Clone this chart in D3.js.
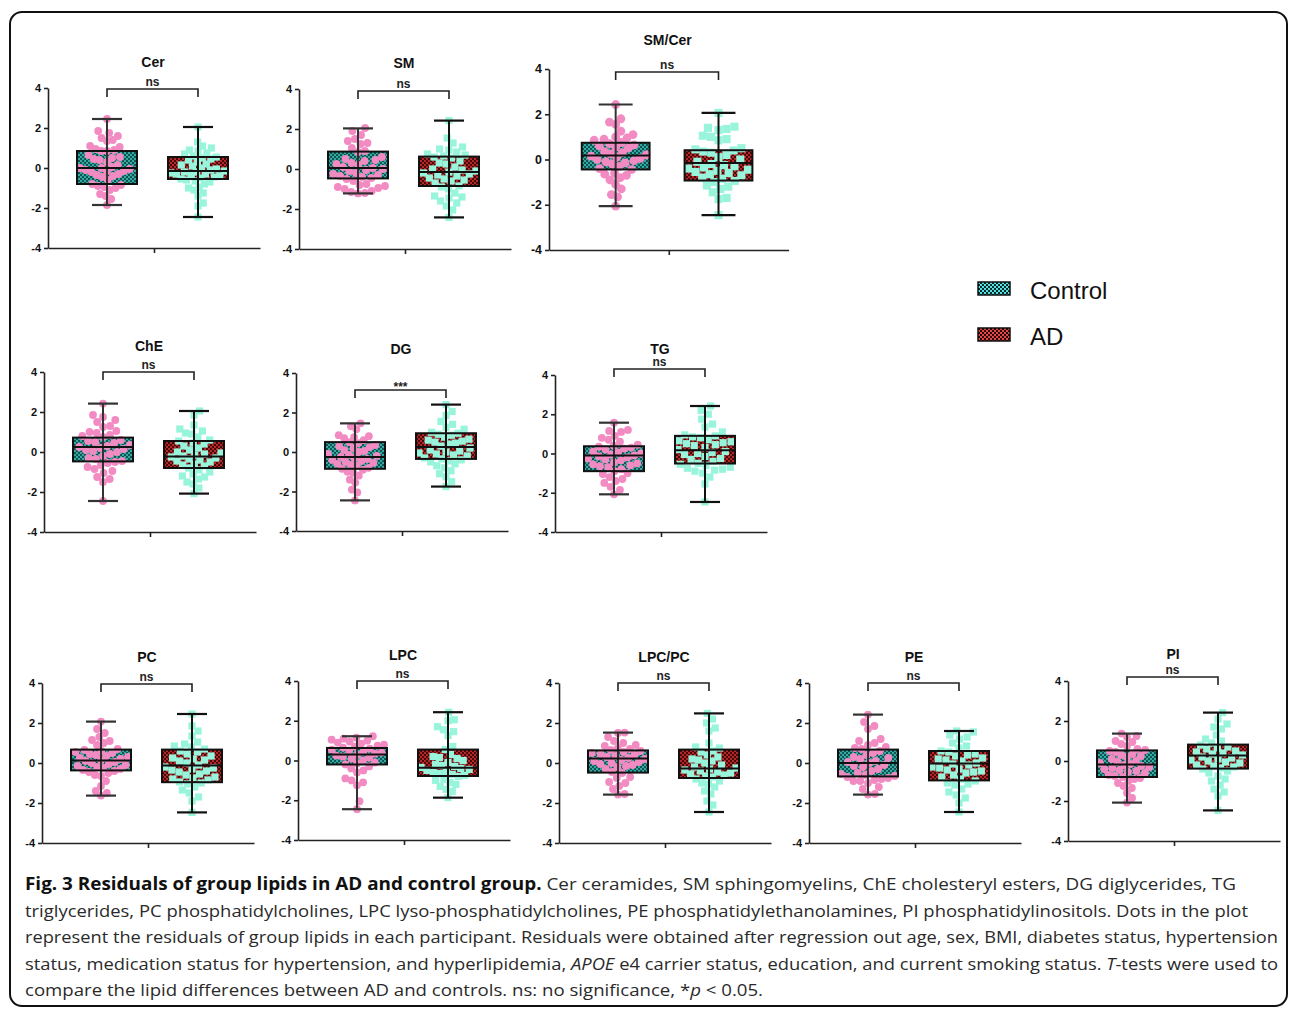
<!DOCTYPE html>
<html>
<head>
<meta charset="utf-8">
<script src="https://cdn.jsdelivr.net/npm/d3@7"></script>
<style>
body { margin: 0; background: #fff; }
</style>
</head>
<body>
<div id="vis"></div>
<script>
var groups = ["Control", "AD"];
var panelNames = ["Cer", "SM", "SM/Cer", "ChE", "DG", "TG", "PC", "LPC", "LPC/PC", "PE", "PI"];
var sigLabels = ["ns", "ns", "ns", "ns", "***", "ns", "ns", "ns", "ns", "ns", "ns"];
var yTicks = [-4, -2, 0, 2, 4];

// box stats: [min, q1, median, q3, max]
var controlBoxes = [
    [-1.85, -0.8, 0.0, 0.85, 2.45],
    [-1.22, -0.47, 0.05, 0.87, 2.03],
    [-2.06, -0.44, 0.18, 0.74, 2.43],
    [-2.45, -0.47, 0.25, 0.72, 2.42],
    [-2.45, -0.85, -0.25, 0.5, 1.45],
    [-2.08, -0.9, -0.1, 0.37, 1.57],
    [-1.63, -0.37, 0.13, 0.67, 2.07],
    [-2.45, -0.2, 0.3, 0.63, 1.22],
    [-1.58, -0.48, 0.22, 0.63, 1.52],
    [-1.58, -0.67, 0.0, 0.67, 2.42],
    [-2.08, -0.8, -0.17, 0.53, 1.37]
];
var adBoxes = [
    [-2.45, -0.55, -0.15, 0.55, 2.05],
    [-2.42, -0.85, -0.15, 0.62, 2.42],
    [-2.46, -0.93, -0.15, 0.41, 2.06],
    [-2.08, -0.8, -0.22, 0.55, 2.05],
    [-1.75, -0.35, 0.25, 0.95, 2.4],
    [-2.47, -0.51, 0.17, 0.9, 2.42],
    [-2.47, -0.96, -0.12, 0.67, 2.45],
    [-1.87, -0.78, -0.37, 0.55, 2.43],
    [-2.45, -0.75, -0.28, 0.67, 2.48],
    [-2.45, -0.87, -0.03, 0.6, 1.6],
    [-2.47, -0.38, 0.28, 0.82, 2.42]
];

// residuals per participant
var cerControl = [2.45, 1.85, 1.75, 1.6, 1.5, 1.4, 1.35, 1.1, 1.05, 0.95, 0.9, 0.85, 0.85, 0.65, 0.55, 0.5, 0.45, 0.4, 0.3, 0.15, 0.05, 0.0, 0.0, -0.05, -0.1, -0.15, -0.15, -0.2, -0.3, -0.35, -0.4, -0.45, -0.6, -0.8, -0.85, -0.9, -0.95, -1.0, -1.1, -1.3, -1.4, -1.55, -1.85];
var cerAD = [2.05, 1.3, 1.1, 1.0, 0.9, 0.85, 0.75, 0.7, 0.6, 0.55, 0.5, 0.45, 0.4, 0.3, 0.2, 0.15, 0.1, 0.0, -0.05, -0.1, -0.15, -0.2, -0.2, -0.25, -0.3, -0.3, -0.35, -0.4, -0.45, -0.5, -0.55, -0.6, -0.65, -0.7, -0.8, -0.95, -1.0, -1.1, -1.25, -1.4, -1.75, -1.9, -2.45];
var smControl = [2.05, 1.9, 1.7, 1.5, 1.4, 1.3, 1.25, 1.05, 0.9, 0.85, 0.6, 0.5, 0.45, 0.4, 0.3, 0.25, 0.2, 0.1, 0.05, 0.0, -0.05, -0.1, -0.2, -0.25, -0.3, -0.35, -0.4, -0.45, -0.5, -0.6, -0.75, -0.8, -0.85, -0.9, -0.95, -1.0, -1.1, -1.15, -1.2, -1.22];
var smAD = [2.42, 1.55, 1.3, 1.1, 1.0, 0.95, 0.85, 0.75, 0.7, 0.65, 0.6, 0.55, 0.4, 0.3, 0.25, 0.1, 0.0, -0.05, -0.1, -0.15, -0.2, -0.25, -0.3, -0.35, -0.45, -0.5, -0.55, -0.6, -0.7, -0.85, -0.9, -1.0, -1.2, -1.35, -1.4, -1.45, -1.6, -1.7, -1.85, -2.05, -2.42];
var smCerControl = [2.43, 1.8, 1.65, 1.55, 1.25, 1.1, 1.0, 0.95, 0.9, 0.85, 0.75, 0.7, 0.65, 0.6, 0.55, 0.5, 0.35, 0.3, 0.25, 0.2, 0.15, 0.1, 0.05, 0.0, -0.05, -0.1, -0.15, -0.2, -0.3, -0.4, -0.45, -0.6, -0.65, -0.7, -0.8, -0.9, -1.1, -1.3, -1.55, -1.65, -2.06];
var smCerAD = [2.06, 1.45, 1.4, 1.35, 1.3, 1.05, 1.0, 0.9, 0.85, 0.5, 0.45, 0.4, 0.35, 0.3, 0.2, 0.1, 0.0, -0.1, -0.2, -0.25, -0.3, -0.35, -0.4, -0.45, -0.5, -0.55, -0.6, -0.65, -0.7, -0.8, -0.85, -0.95, -1.0, -1.15, -1.2, -1.3, -1.45, -1.7, -1.75, -2.46];
var cheControl = [2.42, 1.85, 1.75, 1.6, 1.5, 1.3, 1.25, 1.05, 1.0, 0.95, 0.85, 0.8, 0.75, 0.6, 0.55, 0.5, 0.45, 0.35, 0.3, 0.25, 0.2, 0.15, 0.1, 0.05, 0.0, -0.1, -0.2, -0.3, -0.35, -0.45, -0.5, -0.55, -0.65, -0.75, -0.85, -0.95, -1.05, -1.25, -1.35, -1.5, -2.45];
var cheAD = [2.05, 1.85, 1.35, 1.15, 1.05, 0.95, 0.9, 0.75, 0.6, 0.55, 0.45, 0.4, 0.3, 0.2, 0.1, 0.0, -0.05, -0.1, -0.15, -0.2, -0.25, -0.3, -0.35, -0.4, -0.45, -0.5, -0.6, -0.65, -0.7, -0.8, -0.9, -1.0, -1.1, -1.2, -1.25, -1.35, -1.5, -1.6, -1.8, -2.08];
var dgControl = [1.45, 1.3, 1.15, 0.85, 0.8, 0.75, 0.7, 0.6, 0.5, 0.45, 0.35, 0.3, 0.25, 0.2, 0.1, 0.05, 0.0, -0.1, -0.15, -0.2, -0.25, -0.3, -0.35, -0.4, -0.45, -0.5, -0.55, -0.6, -0.65, -0.7, -0.8, -0.85, -0.9, -1.0, -1.05, -1.2, -1.4, -1.55, -1.9, -2.05, -2.45];
var dgAD = [2.4, 2.05, 1.85, 1.55, 1.4, 1.25, 1.15, 1.0, 0.95, 0.9, 0.85, 0.75, 0.65, 0.6, 0.55, 0.5, 0.45, 0.4, 0.3, 0.2, 0.1, 0.05, 0.0, -0.05, -0.1, -0.15, -0.2, -0.3, -0.35, -0.4, -0.45, -0.5, -0.6, -0.7, -0.8, -0.95, -1.1, -1.25, -1.5, -1.75];
var tgControl = [1.57, 1.2, 1.15, 1.1, 0.9, 0.8, 0.7, 0.6, 0.45, 0.4, 0.35, 0.3, 0.25, 0.2, 0.1, 0.05, 0.0, -0.05, -0.1, -0.15, -0.2, -0.25, -0.3, -0.35, -0.45, -0.5, -0.55, -0.6, -0.65, -0.7, -0.8, -0.9, -1.0, -1.05, -1.2, -1.3, -1.4, -1.5, -1.7, -1.85, -2.08];
var tgAD = [2.42, 2.2, 2.0, 1.75, 1.5, 1.35, 1.1, 0.95, 0.9, 0.85, 0.8, 0.7, 0.65, 0.6, 0.55, 0.5, 0.45, 0.4, 0.3, 0.2, 0.1, 0.05, 0.0, -0.05, -0.15, -0.25, -0.3, -0.4, -0.5, -0.55, -0.6, -0.7, -0.75, -0.8, -0.85, -0.9, -1.0, -1.2, -1.55, -2.47];
var pcControl = [2.07, 1.7, 1.5, 1.3, 1.15, 1.1, 1.0, 0.9, 0.7, 0.65, 0.6, 0.55, 0.5, 0.45, 0.4, 0.35, 0.3, 0.25, 0.2, 0.15, 0.1, 0.05, 0.0, -0.05, -0.1, -0.15, -0.2, -0.25, -0.3, -0.35, -0.4, -0.45, -0.5, -0.6, -0.65, -0.9, -1.15, -1.4, -1.5, -1.63];
var pcAD = [2.45, 1.85, 1.6, 1.35, 1.05, 0.95, 0.85, 0.8, 0.7, 0.6, 0.55, 0.45, 0.35, 0.25, 0.2, 0.15, 0.1, 0.0, -0.1, -0.2, -0.25, -0.3, -0.35, -0.4, -0.45, -0.55, -0.6, -0.7, -0.75, -0.8, -0.85, -0.95, -1.0, -1.05, -1.2, -1.35, -1.5, -1.7, -1.9, -2.47];
var lpcControl = [1.22, 1.15, 1.1, 1.05, 1.0, 0.95, 0.9, 0.85, 0.8, 0.75, 0.7, 0.65, 0.6, 0.55, 0.5, 0.45, 0.4, 0.35, 0.3, 0.25, 0.2, 0.15, 0.1, 0.0, -0.1, -0.15, -0.2, -0.3, -0.4, -0.5, -0.6, -0.9, -1.0, -1.1, -1.25, -2.05, -2.45];
var lpcAD = [2.43, 2.05, 2.0, 1.7, 1.55, 1.45, 1.25, 0.7, 0.55, 0.3, 0.2, 0.15, 0.1, 0.0, -0.1, -0.2, -0.25, -0.3, -0.35, -0.4, -0.45, -0.5, -0.55, -0.6, -0.65, -0.7, -0.75, -0.8, -0.95, -1.0, -1.1, -1.2, -1.3, -1.45, -1.55, -1.87];
var lpcPcControl = [1.52, 1.5, 1.3, 1.1, 1.0, 0.9, 0.85, 0.75, 0.7, 0.65, 0.6, 0.55, 0.5, 0.45, 0.4, 0.35, 0.3, 0.25, 0.2, 0.15, 0.1, 0.05, 0.0, -0.05, -0.1, -0.15, -0.2, -0.3, -0.45, -0.5, -0.7, -0.75, -0.95, -1.0, -1.15, -1.3, -1.55, -1.58];
var lpcPcAD = [2.48, 2.2, 2.0, 1.75, 1.6, 1.0, 0.8, 0.75, 0.6, 0.55, 0.4, 0.3, 0.2, 0.15, 0.1, 0.0, -0.1, -0.2, -0.25, -0.3, -0.35, -0.4, -0.45, -0.5, -0.55, -0.6, -0.65, -0.7, -0.8, -0.9, -1.0, -1.05, -1.2, -1.4, -1.55, -1.9, -2.1, -2.45];
var peControl = [2.42, 2.05, 1.85, 1.7, 1.2, 1.1, 1.0, 0.9, 0.8, 0.75, 0.7, 0.6, 0.5, 0.4, 0.3, 0.25, 0.2, 0.1, 0.05, 0.0, -0.1, -0.15, -0.2, -0.3, -0.4, -0.5, -0.55, -0.6, -0.65, -0.7, -0.75, -0.8, -0.85, -0.9, -0.9, -1.0, -1.2, -1.3, -1.55, -1.58];
var peAD = [1.6, 1.55, 1.4, 1.3, 1.2, 1.0, 0.85, 0.75, 0.6, 0.55, 0.45, 0.4, 0.35, 0.25, 0.2, 0.15, 0.1, 0.0, -0.05, -0.1, -0.2, -0.25, -0.3, -0.35, -0.4, -0.45, -0.5, -0.6, -0.7, -0.8, -0.9, -1.0, -1.05, -1.1, -1.3, -1.45, -1.6, -1.75, -2.0, -2.45];
var piControl = [1.37, 1.25, 1.2, 1.0, 0.95, 0.85, 0.75, 0.6, 0.55, 0.5, 0.45, 0.35, 0.3, 0.25, 0.2, 0.1, 0.0, -0.05, -0.1, -0.15, -0.2, -0.25, -0.3, -0.35, -0.4, -0.45, -0.5, -0.55, -0.6, -0.7, -0.75, -0.8, -0.85, -0.9, -1.0, -1.1, -1.25, -1.35, -1.6, -1.85, -2.08];
var piAD = [2.42, 2.1, 1.85, 1.7, 1.6, 1.3, 1.1, 1.0, 0.9, 0.8, 0.7, 0.65, 0.6, 0.5, 0.45, 0.4, 0.35, 0.3, 0.2, 0.15, 0.1, 0.05, 0.0, -0.05, -0.1, -0.2, -0.25, -0.3, -0.35, -0.4, -0.5, -0.6, -0.75, -0.9, -1.0, -1.2, -1.4, -1.55, -1.75, -2.47];

var controlPoints = [cerControl, smControl, smCerControl, cheControl, dgControl, tgControl, pcControl, lpcControl, lpcPcControl, peControl, piControl];
var adPoints = [cerAD, smAD, smCerAD, cheAD, dgAD, tgAD, pcAD, lpcAD, lpcPcAD, peAD, piAD];

// where each panel sits on the page (y axis x, y of +4 / -4, title and bracket y, scale factor)
var panelLayout = [
    {x: 48, top: 88, bottom: 248, titleY: 62, bracketY: 89, k: 1},
    {x: 299, top: 89, bottom: 249, titleY: 63, bracketY: 91, k: 1},
    {x: 549, top: 69, bottom: 250, titleY: 40, bracketY: 72, k: 1.13},
    {x: 44, top: 372, bottom: 532, titleY: 346, bracketY: 372, k: 1},
    {x: 296, top: 373, bottom: 531, titleY: 349, bracketY: 390, k: 1},
    {x: 555, top: 375, bottom: 532, titleY: 349, bracketY: 369, k: 1},
    {x: 42, top: 683, bottom: 843, titleY: 657, bracketY: 684, k: 1},
    {x: 298, top: 681, bottom: 840, titleY: 655, bracketY: 681, k: 1},
    {x: 559, top: 683, bottom: 843, titleY: 657, bracketY: 683, k: 1},
    {x: 809, top: 683, bottom: 843, titleY: 657, bracketY: 683, k: 1},
    {x: 1068, top: 681, bottom: 841, titleY: 654, bracketY: 677, k: 1}
];

var pageWidth = 1290;
var pageHeight = 1010;
var pink = "#f38bc3";
var aqua = "#98f5dc";

var svg = d3.select("#vis").append("svg")
    .attr("width", pageWidth)
    .attr("height", pageHeight)
    .style("font-family", "'Liberation Sans', Arial, sans-serif");

var defs = svg.append("defs");

function addChecker(id, bg, fg, size) {
    var p = defs.append("pattern")
        .attr("id", id)
        .attr("patternUnits", "userSpaceOnUse")
        .attr("width", size * 2)
        .attr("height", size * 2);
    p.append("rect").attr("width", size * 2).attr("height", size * 2).attr("fill", bg);
    p.append("rect").attr("width", size).attr("height", size).attr("fill", fg);
    p.append("rect").attr("x", size).attr("y", size).attr("width", size).attr("height", size).attr("fill", fg);
}
addChecker("ctrlFill", "#0c5553", "#35aaa3", 2);
addChecker("adFill", "#4a0707", "#b3292a", 2);
addChecker("ctrlLegend", "#0a2c2c", "#55e2e0", 2);
addChecker("adLegend", "#2c0505", "#e0484a", 2);

// outer frame
svg.append("rect")
    .attr("x", 10).attr("y", 12)
    .attr("width", 1277).attr("height", 994)
    .attr("rx", 12)
    .attr("fill", "none")
    .attr("stroke", "#111")
    .attr("stroke-width", 2);

// simple beeswarm: put each value as near the centre as it can go without overlap,
// then squeeze it so it stays inside the box width like the Prism plot does
function swarm(values, y, d, maxHalf) {
    var placed = [];
    values.slice().sort(d3.ascending).forEach(function(v) {
        var py = y(v);
        var cands = [0];
        placed.forEach(function(p) {
            var dy = Math.abs(p.y - py);
            if (dy < d) {
                var dx = Math.sqrt(d * d - dy * dy);
                cands.push(p.x + dx, p.x - dx);
            }
        });
        cands.sort(function(a, b) { return Math.abs(a) - Math.abs(b); });
        var best = cands.find(function(c) {
            return placed.every(function(p) {
                var dx = p.x - c, dy = p.y - py;
                return dx * dx + dy * dy >= d * d - 0.01;
            });
        });
        placed.push({x: best, y: py, v: v});
    });
    var widest = d3.max(placed, function(p) { return Math.abs(p.x); });
    if (widest > maxHalf) {
        placed.forEach(function(p) { p.x = p.x * maxHalf / widest; });
    }
    return placed;
}

panelNames.forEach(function(name, i) {
    var L = panelLayout[i];
    var k = L.k;
    var g = svg.append("g").attr("class", "panel");

    var y = d3.scaleLinear().domain([-4, 4]).range([L.bottom, L.top]);
    var xGroup = d3.scalePoint().domain(groups).range([L.x + 59 * k, L.x + 150 * k]);
    var xAxisScale = d3.scaleLinear().domain([0, 1]).range([L.x, L.x + 212 * k]);

    var yAxis = d3.axisLeft(y)
        .tickValues(yTicks)
        .tickFormat(function(d) { return String(d); })
        .tickSizeInner(4).tickSizeOuter(0).tickPadding(3);
    var xAxis = d3.axisBottom(xAxisScale).tickValues([0.5]).tickFormat("").tickSizeInner(5).tickSizeOuter(0);

    var ya = g.append("g")
        .attr("transform", "translate(" + L.x + ",0)")
        .call(yAxis);
    ya.selectAll("text").style("font-size", (11 * k) + "px").style("font-weight", "bold").attr("fill", "#111");

    g.append("g")
        .attr("transform", "translate(0," + L.bottom + ")")
        .call(xAxis);

    g.selectAll(".domain, .tick line").attr("stroke", "#222").attr("stroke-width", 1.6);

    // title
    g.append("text")
        .attr("x", L.x + 105 * k)
        .attr("y", L.titleY + 5)
        .attr("text-anchor", "middle")
        .style("font-size", "14px")
        .style("font-weight", "bold")
        .attr("fill", "#111")
        .text(name);

    // significance bracket
    var x1 = xGroup("Control"), x2 = xGroup("AD");
    g.append("path")
        .attr("d", "M" + x1 + "," + (L.bracketY + 8) + "V" + L.bracketY + "H" + x2 + "V" + (L.bracketY + 8))
        .attr("fill", "none")
        .attr("stroke", "#222")
        .attr("stroke-width", 1.6);
    g.append("text")
        .attr("x", (x1 + x2) / 2)
        .attr("y", sigLabels[i] === "***" ? L.bracketY + 1 : L.bracketY - 3)
        .attr("text-anchor", "middle")
        .style("font-family", "'Liberation Sans Narrow', 'Liberation Sans', sans-serif")
        .style("font-size", "12px")
        .style("font-weight", "bold")
        .attr("fill", "#222")
        .text(sigLabels[i]);

    var boxW = 60 * k, capW = 30 * k, d = 8.6 * k;

    groups.forEach(function(grp, j) {
        var stats = j === 0 ? controlBoxes[i] : adBoxes[i];
        var pts = j === 0 ? controlPoints[i] : adPoints[i];
        var cx = xGroup(grp);

        // box fill
        g.append("rect")
            .attr("x", cx - boxW / 2)
            .attr("y", y(stats[3]))
            .attr("width", boxW)
            .attr("height", y(stats[1]) - y(stats[3]))
            .attr("fill", j === 0 ? "url(#ctrlFill)" : "url(#adFill)");

        // points
        var sw = swarm(pts, y, d, 27 * k);
        if (j === 0) {
            g.selectAll(null).data(sw).enter().append("circle")
                .attr("cx", function(p) { return cx + p.x; })
                .attr("cy", function(p) { return p.y; })
                .attr("r", 3.9 * k)
                .attr("fill", pink);
        } else {
            g.selectAll(null).data(sw).enter().append("rect")
                .attr("x", function(p) { return cx + p.x - 3.6 * k; })
                .attr("y", function(p) { return p.y - 3.6 * k; })
                .attr("width", 7.2 * k)
                .attr("height", 7.2 * k)
                .attr("fill", aqua);
        }

        var lineCol = j === 0 ? "#333" : "#111";
        // whisker
        g.append("line")
            .attr("x1", cx).attr("x2", cx)
            .attr("y1", y(stats[4])).attr("y2", y(stats[0]))
            .attr("stroke", lineCol).attr("stroke-width", 2);
        [stats[0], stats[4]].forEach(function(v) {
            g.append("line")
                .attr("x1", cx - capW / 2).attr("x2", cx + capW / 2)
                .attr("y1", y(v)).attr("y2", y(v))
                .attr("stroke", lineCol).attr("stroke-width", 2.2);
        });
        // box outline and median
        g.append("rect")
            .attr("x", cx - boxW / 2)
            .attr("y", y(stats[3]))
            .attr("width", boxW)
            .attr("height", y(stats[1]) - y(stats[3]))
            .attr("fill", "none")
            .attr("stroke", "#111")
            .attr("stroke-width", 2);
        g.append("line")
            .attr("x1", cx - boxW / 2).attr("x2", cx + boxW / 2)
            .attr("y1", y(stats[2])).attr("y2", y(stats[2]))
            .attr("stroke", "#111").attr("stroke-width", 2);
    });
});

// legend
var legend = svg.append("g").attr("transform", "translate(978,282)");
groups.forEach(function(grp, j) {
    legend.append("rect")
        .attr("x", 0).attr("y", j * 46)
        .attr("width", 32).attr("height", 13)
        .attr("fill", j === 0 ? "url(#ctrlLegend)" : "url(#adLegend)")
        .attr("stroke", "#111")
        .attr("stroke-width", 1.5);
    legend.append("text")
        .attr("x", 52).attr("y", j * 46 + 17)
        .style("font-size", "24px")
        .attr("fill", "#111")
        .text(grp);
});

// caption
var captionLines = [
    [["b", "Fig. 3 Residuals of group lipids in AD and control group."], ["r", " Cer ceramides, SM sphingomyelins, ChE cholesteryl esters, DG diglycerides, TG"]],
    [["r", "triglycerides, PC phosphatidylcholines, LPC lyso-phosphatidylcholines, PE phosphatidylethanolamines, PI phosphatidylinositols. Dots in the plot"]],
    [["r", "represent the residuals of group lipids in each participant. Residuals were obtained after regression out age, sex, BMI, diabetes status, hypertension"]],
    [["r", "status, medication status for hypertension, and hyperlipidemia, "], ["i", "APOE"], ["r", " e4 carrier status, education, and current smoking status. "], ["i", "T"], ["r", "-tests were used to"]],
    [["r", "compare the lipid differences between AD and controls. ns: no significance, *"], ["i", "p"], ["r", " < 0.05."]]
];
var captionEnds = [1236, 1248, 1278, 1278, 763];

var caption = svg.append("g").style("font-family", "'Open Sans', 'Noto Sans', sans-serif").style("font-size", "17px");
captionLines.forEach(function(line, li) {
    var t = caption.append("text")
        .attr("x", 25)
        .attr("y", 890 + li * 26.5)
        .attr("fill", "#2a2a2a")
        .attr("textLength", captionEnds[li] - 25)
        .attr("lengthAdjust", "spacingAndGlyphs");
    line.forEach(function(part) {
        var s = t.append("tspan").text(part[1]);
        if (part[0] === "b") s.style("font-weight", "bold").attr("fill", "#111");
        if (part[0] === "i") s.style("font-style", "italic");
    });
});
</script>
</body>
</html>
